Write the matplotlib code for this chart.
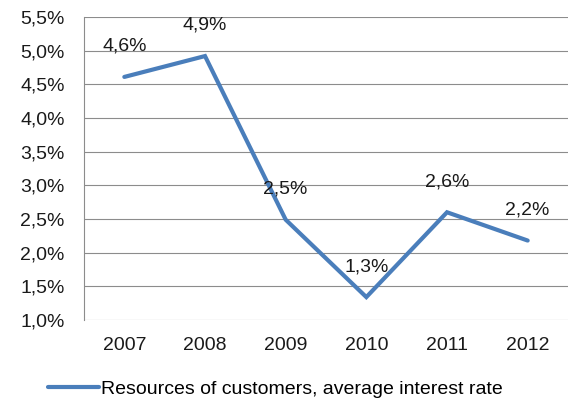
import matplotlib
matplotlib.use("Agg")
import matplotlib.pyplot as plt
import matplotlib.ticker as mticker

plt.rcParams.update({
    "font.family": ["Liberation Sans", "DejaVu Sans"],
    "font.size": 14,
})

years = ["2007", "2008", "2009", "2010", "2011", "2012"]
rates = [4.61, 4.92, 2.49, 1.34, 2.60, 2.18]
series_name = "Resources of customers, average interest rate"

C_LINE = "#4a7ebb"
C_GRID = "#8c8c8c"
C_TEXT = "#1a1a1a"

fig = plt.figure(figsize=(5.76, 4.07), dpi=100)
ax = fig.add_axes([84 / 576, 1 - 320 / 407, 484 / 576, 303 / 407])

x = range(len(years))
ax.plot(x, rates, color=C_LINE, linewidth=3, solid_capstyle="round",
        solid_joinstyle="miter", label=series_name, zorder=3)

for xi, v in zip(x, rates):
    ax.annotate(f"{v:.1f}%".replace(".", ","), (xi, v), xytext=(0, 22),
                textcoords="offset points", ha="center", va="center",
                fontsize=14, color=C_TEXT, zorder=4)

ax.set_xlim(-0.5, len(years) - 0.5)
ax.set_ylim(1.0, 5.5)
ax.set_xticks(list(x))
ax.set_xticklabels(years)
ax.set_yticks([1.0 + 0.5 * i for i in range(10)])
ax.yaxis.set_major_formatter(
    mticker.FuncFormatter(lambda v, _: f"{v:.1f}%".replace(".", ",")))
ax.tick_params(axis="both", length=0, labelsize=14, colors=C_TEXT)
ax.tick_params(axis="x", pad=12)
ax.tick_params(axis="y", pad=14)

ax.yaxis.grid(True, color=C_GRID, linewidth=0.8)
ax.set_axisbelow(True)
for side in ["top", "right", "bottom"]:
    ax.spines[side].set_visible(False)
ax.spines["left"].set_color(C_GRID)
ax.spines["left"].set_linewidth(0.8)

fig.legend(loc="center", bbox_to_anchor=(0.478, 1 - 389 / 407), frameon=False,
           fontsize=14, handlelength=2.6, handletextpad=0.1)

fig.savefig("out.png", dpi=100)
